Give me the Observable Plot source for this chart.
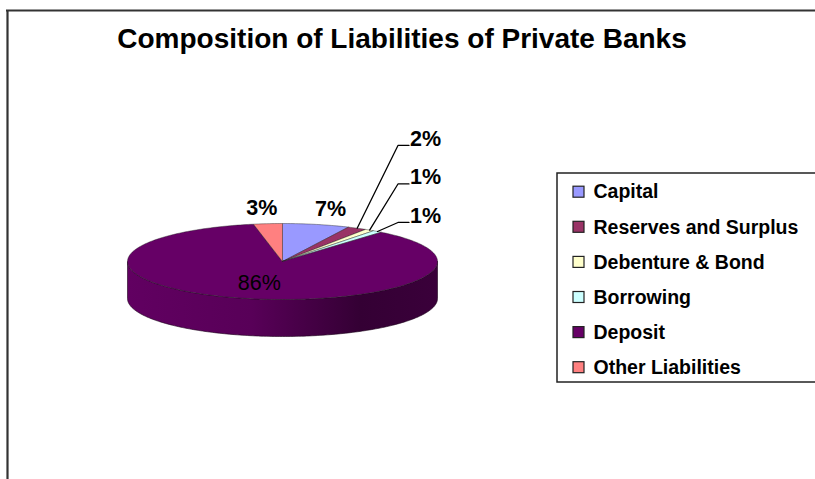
<!DOCTYPE html>
<html><head><meta charset="utf-8">
<script src="https://cdn.jsdelivr.net/npm/d3@7"></script>
<script src="https://cdn.jsdelivr.net/npm/@observablehq/plot@0.6"></script>
<style>body{margin:0;background:#fff;overflow:hidden}</style>
</head><body><div id="chart"></div>
<script>
// ---- data ----
const title = "Composition of Liabilities of Private Banks";
const categories = ["Capital", "Reserves and Surplus", "Debenture & Bond", "Borrowing", "Deposit", "Other Liabilities"];
const shares = [7, 2, 1, 1, 86, 3];
const shareLabels = ["7%", "2%", "1%", "1%", "86%", "3%"];
const colors = ["#9999FF", "#993366", "#FFFFCC", "#CCFFFF", "#660066", "#FF8080"];

// ---- layout ----
const W = 815, H = 479;
const FONT = "Liberation Sans, Arial, Helvetica, sans-serif";
const pie = {cx: 282, cy: 261, rx: 155, ry: 38, depth: 37};
const legend = {x: 557, y: 173, x2: 830, y2: 382, firstRow: 191.7, rowStep: 35.1};
const deg = Math.PI / 180;

const total = d3.sum(shares);
let acc = 0;
const slices = categories.map((name, i) => {
  const a0 = acc / total * 360; acc += shares[i];
  const a1 = acc / total * 360;
  return {i, name, a0, a1, mid: (a0 + a1) / 2, color: colors[i], label: shareLabels[i], share: shares[i]};
});
const pt = (a, k = 1, dy = 0) => [pie.cx + pie.rx * k * Math.sin(a * deg), pie.cy - pie.ry * k * Math.cos(a * deg) + dy];
const arc = (a0, a1, dy = 0) => {
  const n = Math.max(2, Math.ceil(Math.abs(a1 - a0)));
  return d3.range(n + 1).map(j => pt(a0 + (a1 - a0) * j / n, 1, dy));
};

// top faces
const topPts = slices.flatMap(s => {
  const pts = [[pie.cx, pie.cy], ...arc(s.a0, s.a1), [pie.cx, pie.cy]];
  return pts.map(([x, y]) => ({x, y, id: s.i, fill: s.color}));
});
// side walls (front half only: 90..270 deg)
const wallPts = slices.flatMap(s => {
  const lo = Math.max(s.a0, 90), hi = Math.min(s.a1, 270);
  if (hi <= lo) return [];
  const pts = [...arc(lo, hi), ...arc(hi, lo, pie.depth)];
  pts.push(pts[0]);
  return pts.map(([x, y]) => ({x, y, id: s.i, fill: `url(#wall${s.i})`}));
});

// labels
const bigLabels = slices.filter(s => s.share >= 3).map(s => {
  const inside = s.share >= 50;
  const [x, y] = pt(s.mid, inside ? 0.6 : 1.42);
  return {x, y, text: s.label, inside};
});
const small = slices.filter(s => s.share < 3).sort((a, b) => b.mid - a.mid);
const baseY = pt(small[0].mid)[1] - 9;
const elbowX = pie.cx + pie.rx * 0.745;
const leaderPts = [], smallLabels = [];
small.forEach((s, r) => {
  const [rx, ry] = pt(s.mid);
  const ey = baseY - 38.5 * r;
  leaderPts.push({x: rx, y: ry, id: s.i}, {x: elbowX, y: ey, id: s.i}, {x: elbowX + 11, y: ey, id: s.i});
  smallLabels.push({x: elbowX + 12, y: ey - 6.5, text: s.label});
});

const rowY = (d, i) => legend.firstRow + i * legend.rowStep;

const chart = Plot.plot({
  width: W, height: H, margin: 0, axis: null,
  x: {domain: [0, W], range: [0, W]},
  y: {domain: [0, H], range: [0, H]},
  color: {type: "identity"},
  style: {fontFamily: FONT, background: "#fff"},
  marks: [
    Plot.ruleX([7], {y1: 10, y2: H, stroke: "#333", strokeWidth: 2.2}),
    Plot.ruleY([10], {x1: 6, x2: W, stroke: "#333", strokeWidth: 2.2}),
    Plot.text([title], {x: 401.5, y: 38.2, text: d => d, fontSize: 28, fontWeight: "bold", fill: "#000"}),
    // side walls
    Plot.line(wallPts, {x: "x", y: "y", z: "id", fill: "fill", stroke: "#1a0018", strokeWidth: 0.6, curve: "linear"}),
    // top faces
    Plot.line(topPts, {x: "x", y: "y", z: "id", fill: "fill", stroke: "#222", strokeWidth: 0.6, strokeOpacity: 0.7, curve: "linear"}),
    // leader lines
    Plot.line(leaderPts, {x: "x", y: "y", z: "id", stroke: "#000", strokeWidth: 1.3, curve: "linear"}),
    Plot.text(bigLabels.filter(d => !d.inside), {x: "x", y: "y", text: "text", fontSize: 21.5, fontWeight: "bold", fill: "#000"}),
    Plot.text(bigLabels.filter(d => d.inside), {x: "x", y: "y", text: "text", fontSize: 21.5, fill: "#000"}),
    Plot.text(smallLabels, {x: "x", y: "y", text: "text", fontSize: 21.5, fontWeight: "bold", textAnchor: "start", fill: "#000"}),
    // legend
    Plot.rect([legend], {x1: "x", x2: "x2", y1: "y", y2: "y2", fill: "#fff", stroke: "#222", strokeWidth: 1.5}),
    Plot.rect(categories, {x1: legend.x + 16, x2: legend.x + 27, y1: (d, i) => rowY(d, i) - 5.5, y2: (d, i) => rowY(d, i) + 5.5,
      fill: (d, i) => colors[i], stroke: "#222", strokeWidth: 1.2}),
    Plot.text(categories, {x: legend.x + 36, y: rowY, text: d => d, textAnchor: "start", fontSize: 19.5, fontWeight: "bold", fill: "#000"})
  ]
});

// gradients for the 3D side walls
const svg = d3.select(chart.tagName === "svg" ? chart : chart.querySelector("svg"));
const defs = svg.insert("defs", ":first-child");
slices.forEach(s => {
  const c = d3.color(s.color);
  const g = defs.append("linearGradient").attr("id", `wall${s.i}`).attr("gradientUnits", "userSpaceOnUse")
    .attr("x1", pie.cx - pie.rx).attr("x2", pie.cx + pie.rx).attr("y1", 0).attr("y2", 0);
  [[0, 0.15], [0.4, 0.4], [0.75, 1.9], [1, 1.6]].forEach(([o, k]) =>
    g.append("stop").attr("offset", o).attr("stop-color", c.darker(k).formatHex()));
});
document.getElementById("chart").append(chart);
</script>
</body></html>
